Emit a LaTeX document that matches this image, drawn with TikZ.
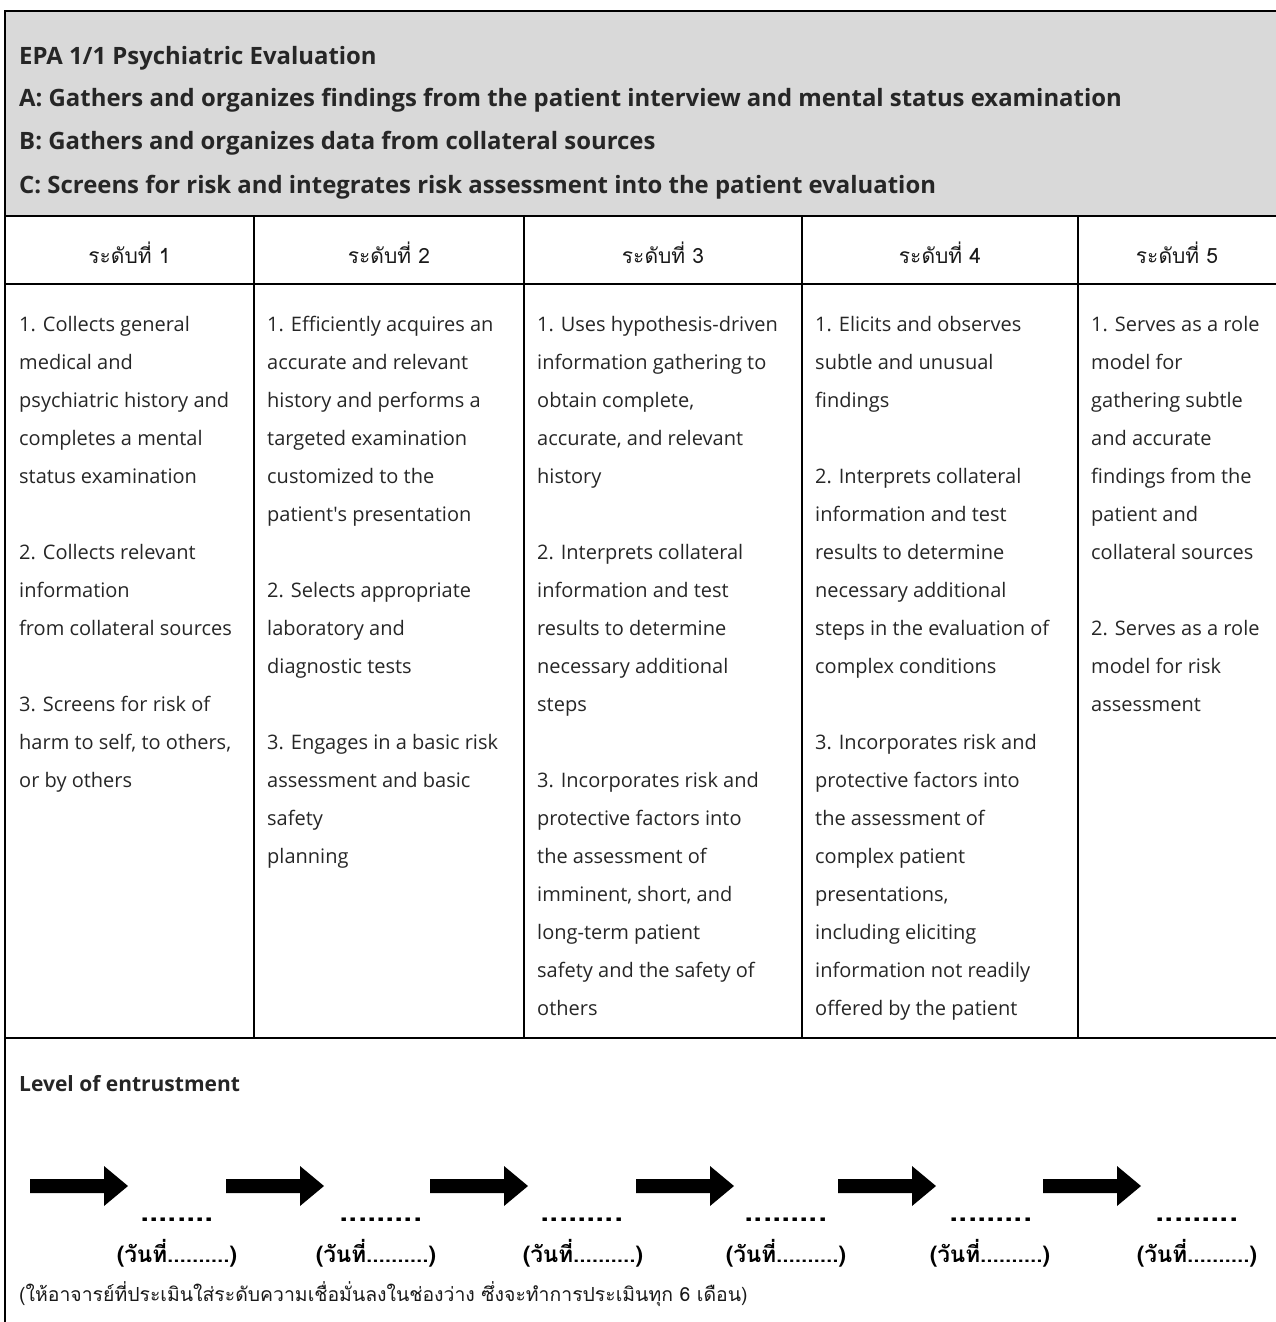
\documentclass[tikz,border=0pt]{standalone}
\usepackage{fontspec}
\setmainfont{Open Sans}
\newfontfamily\thai[Script=Thai]{Loma}
\definecolor{hdrgray}{HTML}{D9D9D9}
\definecolor{bodytxt}{HTML}{262626}
\tikzset{
  x=1pt, y=-1pt,
  body/.style={font=\fontsize{20}{24}\selectfont, text=bodytxt, inner sep=0, anchor=base west},
  head/.style={font=\bfseries\fontsize{23.9}{26}\selectfont, text=black!85, inner sep=0, anchor=base west},
  enthead/.style={font=\bfseries\fontsize{21}{24}\selectfont, text=black!85, inner sep=0, anchor=base west},
  lvl/.style={font=\thai\fontsize{21}{24}\selectfont, text=black!90, inner sep=0, anchor=base},
  dots/.style={font=\thai\bfseries\fontsize{33}{34}\selectfont, inner sep=0, anchor=base},
  datelbl/.style={font=\thai\bfseries\fontsize{22.5}{24}\selectfont, inner sep=0, anchor=base},
  note/.style={font=\thai\fontsize{19.4}{24}\selectfont, text=black!90, inner sep=0, anchor=base west},
  rule/.style={line width=2pt, black},
  outer/.style={line width=2.6pt, black}
}
\begin{document}
\begin{tikzpicture}
\useasboundingbox (0,0) rectangle (1276,1322);
\begin{scope}
\clip (0,0) rectangle (1276,1322);
% header band
\fill[hdrgray] (5,11) rectangle (1280,216);
\draw[outer] (1280,11) -- (5,11) -- (5,1330);
\draw[rule] (5,216) -- (1280,216);
\draw[rule] (5,284) -- (1280,284);
\draw[rule] (5,1038) -- (1280,1038);
\foreach \cx in {254,524,802,1078} \draw[rule] (\cx,216) -- (\cx,1038);
\end{scope}

% header text
\node[head] (h1) at (19,64) {EPA 1/1 Psychiatric Evaluation};
\node[head] (h2) at (19,106) {A: Gathers and organizes findings from the patient interview and mental status examination};
\node[head] (h3) at (19,149) {B: Gathers and organizes data from collateral sources};
\node[head] (h4) at (19,193) {C: Screens for risk and integrates risk assessment into the patient evaluation};

% level headings
\node[lvl] (lv1) at (129.5,263) {ระดับที่ 1};
\node[lvl] (lv2) at (389,263) {ระดับที่ 2};
\node[lvl] (lv3) at (663,263) {ระดับที่ 3};
\node[lvl] (lv4) at (940,263) {ระดับที่ 4};
\node[lvl] (lv5) at (1177,263) {ระดับที่ 5};

% column 1
\foreach \n/\t in {1/{1. Collects general},2/{medical and},3/{psychiatric history and},4/{completes a mental},5/{status examination},
  7/{2. Collects relevant},8/{information},9/{from collateral sources},
  11/{3. Screens for risk of},12/{harm to self, to others,},13/{or by others}}
  \node[body] (ca\n) at (19,293+38*\n) {\t};
% column 2
\foreach \n/\t in {1/{1. Efficiently acquires an},2/{accurate and relevant},3/{history and performs a},4/{targeted examination},5/{customized to the},6/{patient\textquotesingle s presentation},
  8/{2. Selects appropriate},9/{laboratory and},10/{diagnostic tests},
  12/{3. Engages in a basic risk},13/{assessment and basic},14/{safety},15/{planning}}
  \node[body] (cb\n) at (267,293+38*\n) {\t};
% column 3
\foreach \n/\t in {1/{1. Uses hypothesis-driven},2/{information gathering to},3/{obtain complete,},4/{accurate, and relevant},5/{history},
  7/{2. Interprets collateral},8/{information and test},9/{results to determine},10/{necessary additional},11/{steps},
  13/{3. Incorporates risk and},14/{protective factors into},15/{the assessment of},16/{imminent, short, and},17/{long-term patient},18/{safety and the safety of},19/{others}}
  \node[body] (cc\n) at (537,293+38*\n) {\t};
% column 4
\foreach \n/\t in {1/{1. Elicits and observes},2/{subtle and unusual},3/{findings},
  5/{2. Interprets collateral},6/{information and test},7/{results to determine},8/{necessary additional},9/{steps in the evaluation of},10/{complex conditions},
  12/{3. Incorporates risk and},13/{protective factors into},14/{the assessment of},15/{complex patient},16/{presentations,},17/{including eliciting},18/{information not readily},19/{offered by the patient}}
  \node[body] (cd\n) at (815,293+38*\n) {\t};
% column 5
\foreach \n/\t in {1/{1. Serves as a role},2/{model for},3/{gathering subtle},4/{and accurate},5/{findings from the},6/{patient and},7/{collateral sources},
  9/{2. Serves as a role},10/{model for risk},11/{assessment}}
  \node[body] (ce\n) at (1091,293+38*\n) {\t};

% entrustment section
\node[enthead] (ent) at (19,1091) {Level of entrustment};
\foreach \ax in {30,226,430,636,838,1043}
  \fill[black] (\ax,1179) -- (\ax+74,1179) -- (\ax+74,1166) -- (\ax+98,1186) -- (\ax+74,1206) -- (\ax+74,1193) -- (\ax,1193) -- cycle;
\node[dots] (d1) at (177,1221) {........};
\foreach \i/\dx in {2/381,3/582,4/786,5/991,6/1197}
  \node[dots] (d\i) at (\dx,1221) {.........};
\foreach \i/\dx in {1/177,2/376,3/583,4/786,5/990,6/1197}
  \node[datelbl] (t\i) at (\dx,1262) {(วันที่..........)};
\node[note] (nt) at (19,1301) {(ให้อาจารย์ที่ประเมินใส่ระดับความเชื่อมั่นลงในช่องว่าง ซึ่งจะทำการประเมินทุก 6 เดือน)};
\end{tikzpicture}
\end{document}
